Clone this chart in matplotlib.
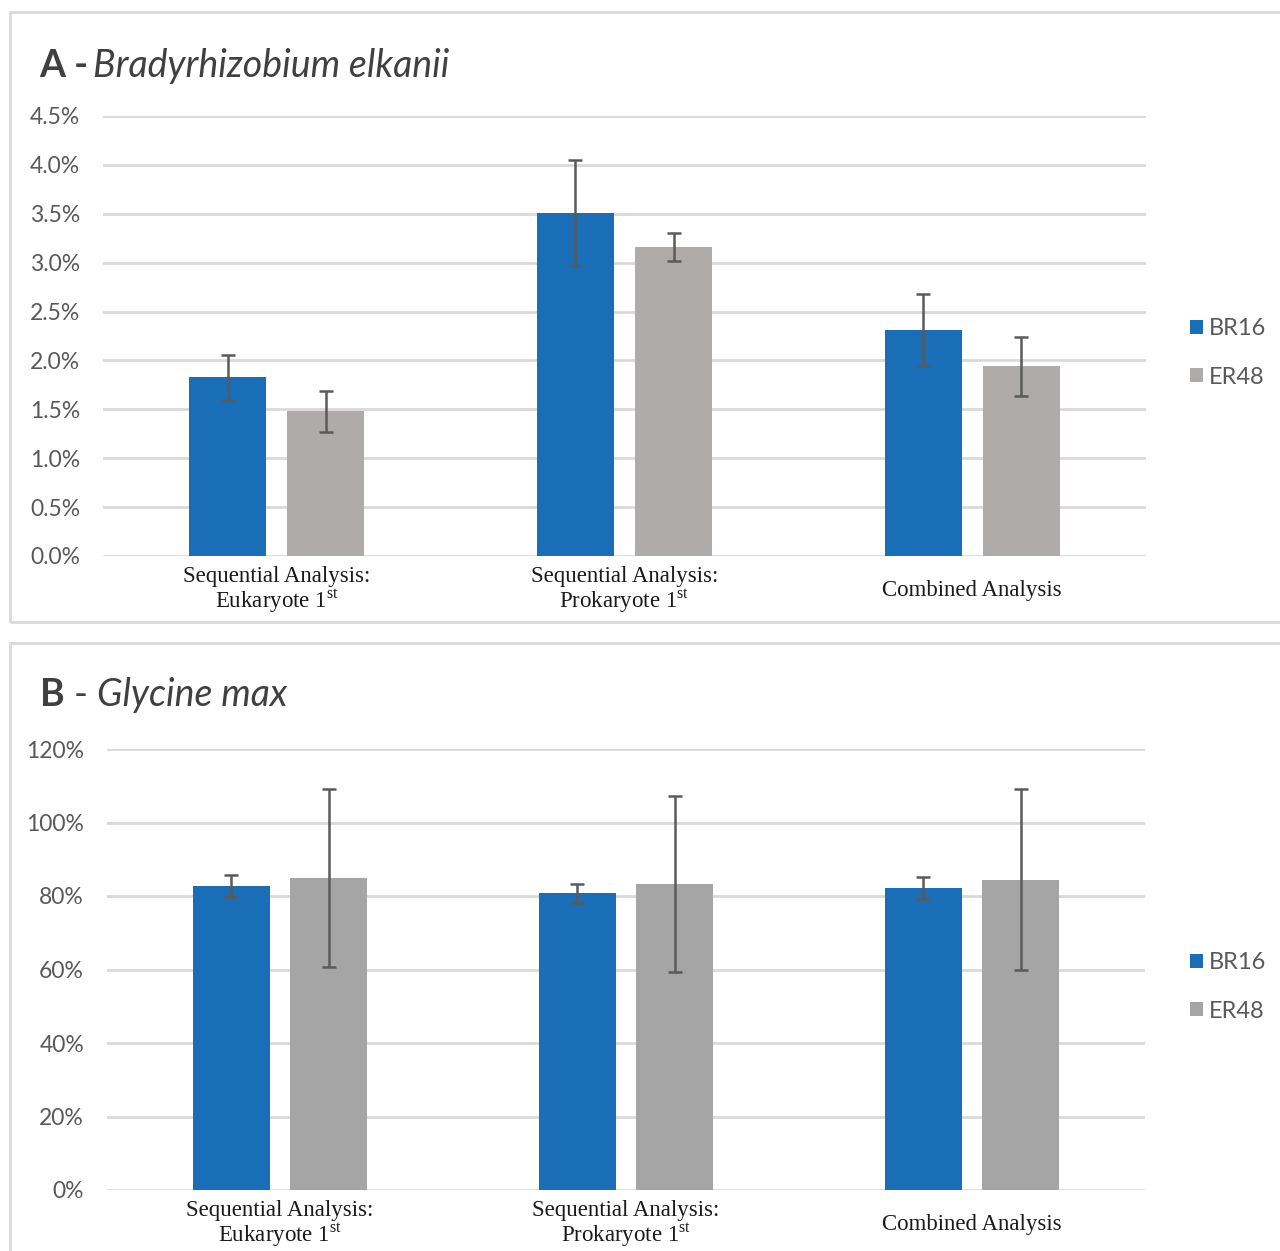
import numpy as np
import matplotlib
matplotlib.use("Agg")
import matplotlib.pyplot as plt
from matplotlib.patches import Rectangle
from matplotlib.ticker import PercentFormatter

plt.rcParams['mathtext.fontset'] = 'custom'
plt.rcParams['mathtext.rm'] = 'Liberation Serif'

# data (percent units)
categories = ["Sequential Analysis:\nEukaryote 1$^{\\mathrm{st}}$",
              "Sequential Analysis:\nProkaryote 1$^{\\mathrm{st}}$",
              "Combined Analysis"]
series = ["BR16", "ER48"]

a_br16 = [1.83, 3.51, 2.31]
a_br16_err = [0.23, 0.54, 0.37]
a_er48 = [1.48, 3.16, 1.94]
a_er48_err = [0.21, 0.14, 0.30]

b_br16 = [82.7, 80.8, 82.2]
b_br16_err = [2.9, 2.6, 2.9]
b_er48 = [84.9, 83.3, 84.4]
b_er48_err = [24.3, 24.0, 24.6]

W, H = 1280, 1251
BLUE = '#1A6EB7'
GRAY_A = '#AEABAA'
GRAY_B = '#A5A5A5'
TXT = '#595959'

fig = plt.figure(figsize=(W / 100, H / 100), dpi=100)

def px_axes(l, t, r, b):
    return fig.add_axes([l / W, 1 - b / H, (r - l) / W, (b - t) / H])

# panel frames
for top, bot in [(12, 622), (643, 1262)]:
    fig.patches.append(Rectangle((10 / W, 1 - bot / H), (1300 - 10) / W, (bot - top) / H,
                                 transform=fig.transFigure, fill=False,
                                 edgecolor='#D9D9D9', lw=2))


def draw_panel(ax, v1, e1, v2, e2, gray, ymax, step, decimals):
    x = np.arange(len(categories))
    w = 0.222
    off = 0.141
    ekw = dict(ecolor='#5A5A5A', elinewidth=1.8, capsize=5, capthick=1.8)
    ax.bar(x - off, v1, w, yerr=e1, color=BLUE, label=series[0], error_kw=ekw, zorder=3)
    ax.bar(x + off, v2, w, yerr=e2, color=gray, label=series[1], error_kw=ekw, zorder=3)
    ax.set_xlim(-0.5, len(categories) - 0.5)
    ax.set_ylim(0, ymax)
    ax.set_yticks(np.arange(0, ymax + step / 2, step))
    ax.yaxis.set_major_formatter(PercentFormatter(decimals=decimals))
    ax.grid(axis='y', color='#D9D9D9', lw=2, zorder=0)
    ax.set_axisbelow(True)
    for s in ax.spines.values():
        s.set_visible(False)
    ax.tick_params(axis='y', length=0, pad=16.5, labelsize=16.5, labelcolor=TXT)
    ax.set_xticks(x)
    ax.set_xticklabels(categories, family='Liberation Serif', fontsize=16.5,
                       color='#1A1A1A', linespacing=1.0)
    ax.tick_params(axis='x', length=0, pad=25)
    for lab in ax.get_xticklabels():
        lab.set_va('center')
    for lab in ax.get_yticklabels():
        lab.set_family('Lato')


def add_legend(ax, y):
    ax.legend(loc='center left', bbox_to_anchor=(1169 / W, 1 - y / H),
              bbox_transform=fig.transFigure, frameon=False,
              prop={'family': 'Lato', 'size': 17}, labelcolor=TXT,
              handlelength=0.55, handleheight=0.55, handletextpad=0.25,
              labelspacing=1.15)


axA = px_axes(103, 116, 1146, 556)
draw_panel(axA, a_br16, a_br16_err, a_er48, a_er48_err, GRAY_A, 4.5, 0.5, 1)
add_legend(axA, 353)

axB = px_axes(107, 749, 1145, 1190)
draw_panel(axB, b_br16, b_br16_err, b_er48, b_er48_err, GRAY_B, 120, 20, 0)
add_legend(axB, 987)

# titles: bold prefix followed by italic species name
renderer = fig.canvas.get_renderer()
t = fig.text(39 / W, 1 - 77 / H, "A -", family='Lato', weight='bold',
             fontsize=27, color='#404040', va='baseline')
bb = t.get_window_extent(renderer)
fig.text((bb.x1 + 5) / W, 1 - 77 / H, "Bradyrhizobium elkanii", family='Lato',
         style='italic', fontsize=27, color='#404040', va='baseline')

t = fig.text(40 / W, 1 - 706 / H, "B", family='Lato', weight='bold',
             fontsize=27, color='#404040', va='baseline')
bb = t.get_window_extent(renderer)
t2 = fig.text((bb.x1 + 9) / W, 1 - 706 / H, "-", family='Lato',
              fontsize=27, color='#404040', va='baseline')
bb2 = t2.get_window_extent(renderer)
fig.text((bb2.x1 + 9) / W, 1 - 706 / H, "Glycine max", family='Lato',
         style='italic', fontsize=27, color='#404040', va='baseline')

fig.savefig("out.png", dpi=100, facecolor='white')
